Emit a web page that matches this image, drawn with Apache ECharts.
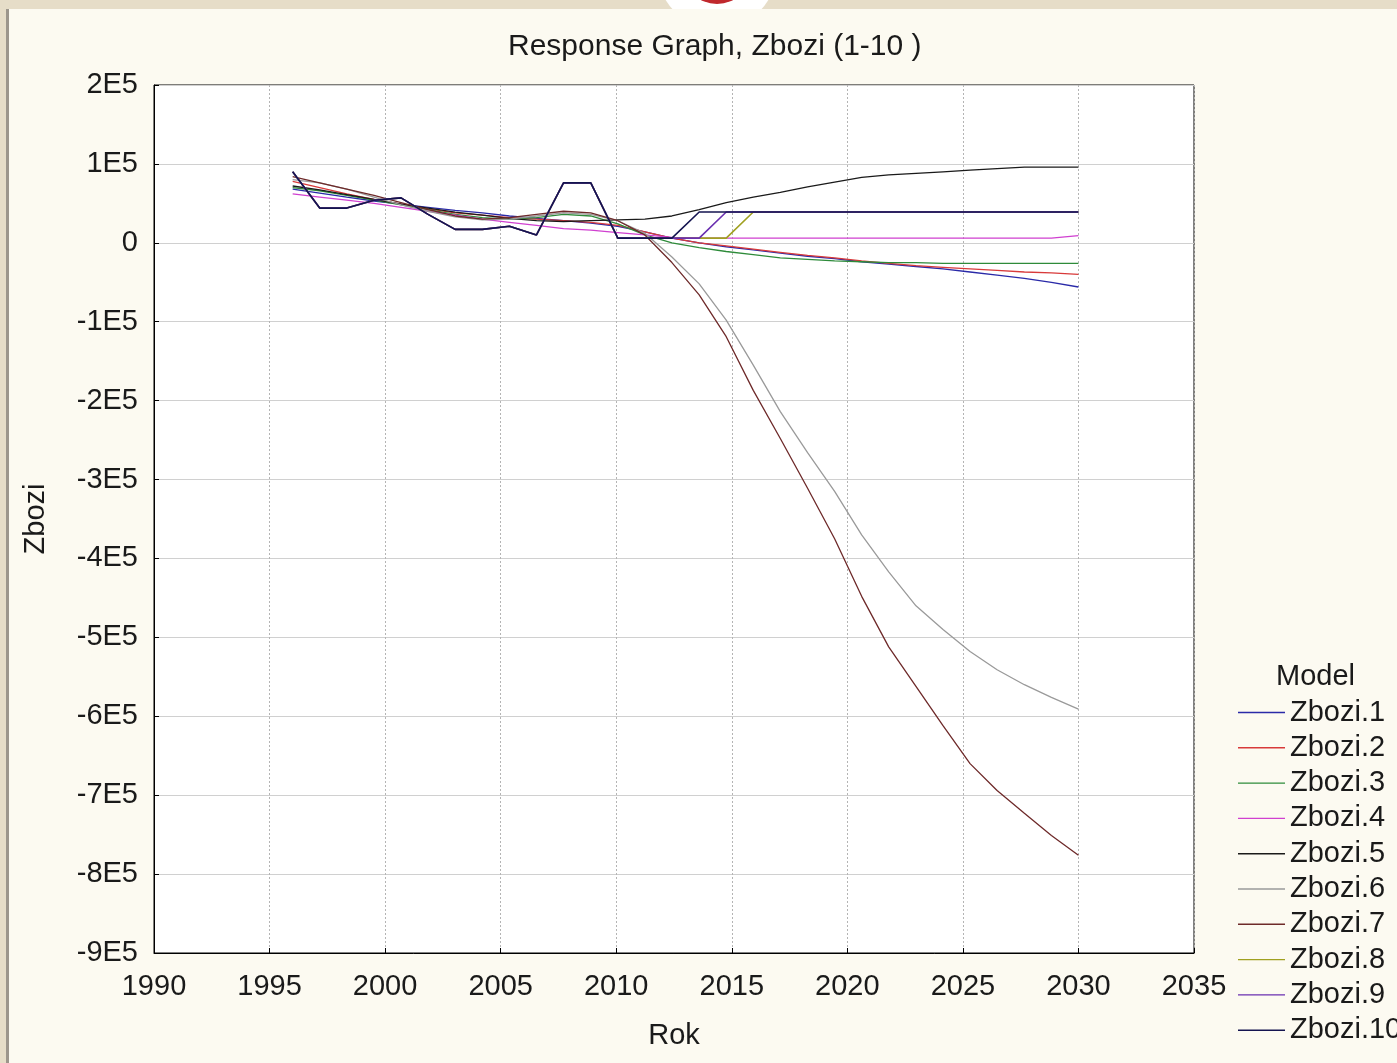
<!DOCTYPE html>
<html>
<head>
<meta charset="utf-8">
<script src="https://cdn.jsdelivr.net/npm/echarts@6/dist/echarts.min.js"></script>
<style>
html,body{margin:0;padding:0;background:#e6ddc8;}
#chart{width:1397px;height:1063px;}
</style>
</head>
<body>
<div id="chart"></div>
<script>
// sample times (30 evenly spaced steps between 1996 and 2030)
const years = [1996.00, 1997.17, 1998.34, 1999.52, 2000.69, 2001.86, 2003.03, 2004.21, 2005.38, 2006.55,
               2007.72, 2008.90, 2010.07, 2011.24, 2012.41, 2013.59, 2014.76, 2015.93, 2017.10, 2018.28,
               2019.45, 2020.62, 2021.79, 2022.97, 2024.14, 2025.31, 2026.48, 2027.66, 2028.83, 2030.00];

const seriesNames = ['Zbozi.1','Zbozi.2','Zbozi.3','Zbozi.4','Zbozi.5','Zbozi.6','Zbozi.7','Zbozi.8','Zbozi.9','Zbozi.10'];

const zbozi1 = [68000, 63000, 58000, 53000, 49000, 45000, 41000, 38000, 34000, 31000,
                28000, 25000, 21000, 14000, 6000, 0, -5000, -9000, -13000, -17000,
                -20000, -24000, -27000, -30000, -33000, -37000, -41000, -45000, -50000, -56000];
const zbozi2 = [78000, 70000, 62000, 55000, 49000, 43000, 38000, 35000, 32000, 30000,
                28000, 26000, 22000, 14000, 6000, 0, -4000, -8000, -12000, -16000,
                -19000, -23000, -26000, -29000, -31000, -33000, -35000, -37000, -38000, -40000];
const zbozi3 = [70000, 66000, 60000, 54000, 48000, 42000, 36000, 32000, 30000, 32000,
                36000, 34000, 24000, 10000, 0, -6000, -11000, -15000, -19000, -21000,
                -23000, -24000, -25000, -25000, -26000, -26000, -26000, -26000, -26000, -26000];
const zbozi4 = [62000, 58000, 54000, 50000, 45000, 40000, 35000, 30000, 26000, 22000,
                18000, 16000, 13000, 10000, 7000, 6000, 6000, 6000, 6000, 6000,
                6000, 6000, 6000, 6000, 6000, 6000, 6000, 6000, 6000, 9000];
const zbozi5 = [72000, 67000, 61000, 55000, 49000, 44000, 39000, 35000, 31000, 28000,
                27000, 28000, 29000, 30000, 34000, 42000, 51000, 58000, 64000, 71000,
                77000, 83000, 86000, 88000, 90000, 92000, 94000, 96000, 96000, 96000];
const zbozi6 = [80000, 76000, 68000, 58000, 48000, 40000, 33000, 29000, 30000, 34000,
                38000, 36000, 28000, 12000, -18000, -52000, -98000, -155000, -214000, -266000,
                -315000, -370000, -417000, -460000, -490000, -518000, -541000, -560000, -576000, -591000];
const zbozi7 = [84000, 76000, 68000, 60000, 51000, 42000, 34000, 30000, 32000, 36000,
                40000, 38000, 28000, 10000, -25000, -66000, -119000, -187000, -248000, -311000,
                -375000, -448000, -512000, -562000, -612000, -660000, -694000, -723000, -751000, -776000];
const zbozi8 = [90000, 44000, 44000, 54000, 57000, 36000, 17000, 17000, 21000, 10000,
                76000, 76000, 6000, 6000, 6000, 6000, 6000, 39000, 39000, 39000,
                39000, 39000, 39000, 39000, 39000, 39000, 39000, 39000, 39000, 39000];
const zbozi9 = [90000, 44000, 44000, 54000, 57000, 36000, 17000, 17000, 21000, 10000,
                76000, 76000, 6000, 6000, 6000, 6000, 39000, 39000, 39000, 39000,
                39000, 39000, 39000, 39000, 39000, 39000, 39000, 39000, 39000, 39000];
const zbozi10 = [90000, 44000, 44000, 54000, 57000, 36000, 17000, 17000, 21000, 10000,
                 76000, 76000, 6000, 6000, 6000, 39000, 39000, 39000, 39000, 39000,
                 39000, 39000, 39000, 39000, 39000, 39000, 39000, 39000, 39000, 39000];

const xTickLabels = ['1990','1995','2000','2005','2010','2015','2020','2025','2030','2035'];
const yTickLabels = ['-9E5','-8E5','-7E5','-6E5','-5E5','-4E5','-3E5','-2E5','-1E5','0','1E5','2E5'];

const allValues = [zbozi1, zbozi2, zbozi3, zbozi4, zbozi5, zbozi6, zbozi7, zbozi8, zbozi9, zbozi10];
const colors = ['#2a2aa8','#d83a3a','#2e8b3a','#d040d0','#1a1a1a','#9a9a9a','#6e2a2a','#a0a020','#6a2fb0','#141450'];

const FONT = '"Liberation Sans", Arial, sans-serif';

const chart = echarts.init(document.getElementById('chart'), null, {renderer: 'canvas'});

const series = allValues.map((vals, i) => ({
  name: seriesNames[i],
  type: 'line',
  symbol: 'none',
  smooth: false,
  animation: false,
  lineStyle: {color: colors[i], width: i >= 7 ? 1.6 : 1.3},
  itemStyle: {color: colors[i]},
  data: vals.map((v, k) => [years[k], v])
}));

const option = {
  backgroundColor: '#e6ddc8',
  animation: false,
  graphic: [
    {type: 'circle', shape: {cx: 717, cy: -31, r: 60}, style: {fill: '#ffffff'}, z: -10},
    {type: 'circle', shape: {cx: 717, cy: -31, r: 35}, style: {fill: '#c0282c'}, z: -10},
    {type: 'rect', shape: {x: 7, y: 9, width: 1390, height: 1054}, style: {fill: '#fcfaf1'}, z: -9},
    {type: 'rect', shape: {x: 6, y: 9, width: 3, height: 1054}, style: {fill: '#9c968c'}, z: -9}
  ],
  title: [
    {text: 'Response Graph, Zbozi (1-10 )', left: 508, top: 32, padding: 0,
     textStyle: {fontFamily: FONT, fontSize: 30, fontWeight: 'normal', color: '#1a1a1a'}},
    {text: 'Model', left: 1276, top: 662, padding: 0,
     textStyle: {fontFamily: FONT, fontSize: 29, fontWeight: 'normal', color: '#1a1a1a'}}
  ],
  legend: {
    orient: 'vertical',
    left: 1238,
    top: 698,
    padding: 0,
    icon: 'rect',
    itemWidth: 47,
    itemHeight: 1.4,
    itemGap: 6.3,
    itemTextGap: 0,
    data: seriesNames,
    textStyle: {fontFamily: FONT, fontSize: 29, color: '#1a1a1a'}
  },
  grid: {
    left: 154, right: 203, top: 85, bottom: 110,
    show: true, backgroundColor: '#ffffff', borderColor: '#000', borderWidth: 1,
    containLabel: false
  },
  xAxis: {
    type: 'value', min: 1990, max: 2035, interval: 5,
    name: 'Rok', nameLocation: 'middle', nameGap: 68,
    nameTextStyle: {fontFamily: FONT, fontSize: 29, color: '#1a1a1a'},
    axisLine: {show: true, onZero: false, lineStyle: {color: '#000', width: 1}},
    axisTick: {show: true, inside: true, length: 5, lineStyle: {color: '#000'}},
    axisLabel: {
      fontFamily: FONT, fontSize: 29, color: '#1a1a1a', margin: 19,
      formatter: (v) => { const i = Math.round((v - 1990) / 5); return xTickLabels[i] || ''; }
    },
    splitLine: {show: true, lineStyle: {color: '#b4b4b4', type: [2, 2], width: 1}}
  },
  yAxis: {
    type: 'value', min: -900000, max: 200000, interval: 100000,
    name: 'Zbozi', nameLocation: 'middle', nameGap: 104, nameRotate: 90,
    nameTextStyle: {fontFamily: FONT, fontSize: 29, color: '#1a1a1a'},
    axisLine: {show: true, onZero: false, lineStyle: {color: '#000', width: 1}},
    axisTick: {show: true, inside: true, length: 5, lineStyle: {color: '#000'}},
    axisLabel: {
      fontFamily: FONT, fontSize: 29, color: '#1a1a1a', margin: 16,
      formatter: (v) => { const i = Math.round((v + 900000) / 100000); return yTickLabels[i] || ''; }
    },
    splitLine: {show: true, lineStyle: {color: '#d0d0d0', type: 'solid', width: 1}}
  },
  series: series
};

chart.setOption(option);
</script>
</body>
</html>
